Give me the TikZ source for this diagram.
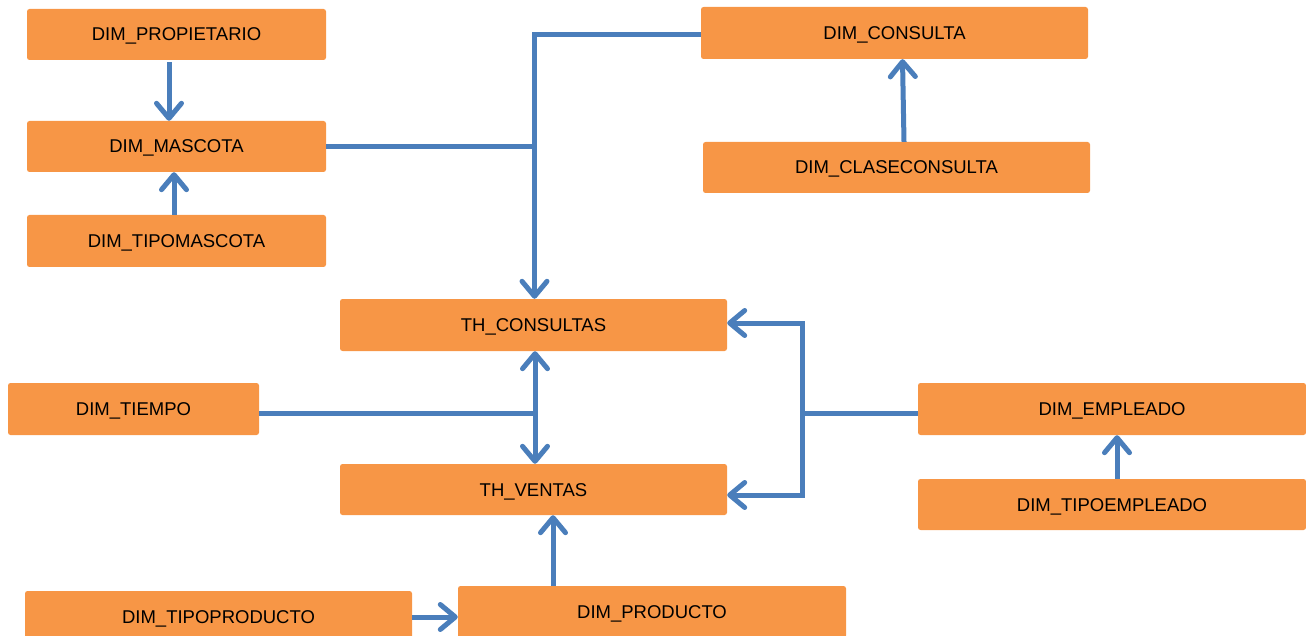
\documentclass[tikz,border=0pt]{standalone}
\usepackage{fontspec}
\setmainfont{Liberation Sans}
\usetikzlibrary{arrows.meta,calc}
\definecolor{boxorange}{HTML}{F79646}
\definecolor{linkblue}{HTML}{4A7EBB}
\begin{document}
\begin{tikzpicture}[x=1pt,y=-1pt,
  tbl/.style={fill=boxorange, draw=none, rounded corners=2.5pt, inner sep=0pt,
    text height=13pt, text depth=0pt,
    font=\fontsize{18.5}{20}\selectfont, text=black},
  link/.style={draw=linkblue, line width=5pt},
  arr/.style={link, -{Straight Barb[length=15pt,width=25pt,round]}},
  arrboth/.style={link, {Straight Barb[length=15pt,width=25pt,round]}-{Straight Barb[length=15pt,width=25pt,round]}}]
\useasboundingbox (0,0) rectangle (1306,636);

% tables
\node[tbl, minimum width=299, minimum height=51] (prop)     at (176.5,34.5)  {DIM\_PROPIETARIO};
\node[tbl, minimum width=299, minimum height=51] (masc)     at (176.5,146.5) {DIM\_MASCOTA};
\node[tbl, minimum width=299, minimum height=52] (tipomasc) at (176.5,241)   {DIM\_TIPOMASCOTA};
\node[tbl, minimum width=387, minimum height=52] (consulta) at (894.5,33)    {DIM\_CONSULTA};
\node[tbl, minimum width=387, minimum height=51] (clase)    at (896.5,167.5) {DIM\_CLASECONSULTA};
\node[tbl, minimum width=387, minimum height=52] (thc)      at (533.5,325)   {TH\_CONSULTAS};
\node[tbl, minimum width=251, minimum height=52] (tiempo)   at (133.5,409)   {DIM\_TIEMPO};
\node[tbl, minimum width=387, minimum height=51] (thv)      at (533.5,489.5) {TH\_VENTAS};
\node[tbl, minimum width=388, minimum height=52] (emp)      at (1112,409)    {DIM\_EMPLEADO};
\node[tbl, minimum width=388, minimum height=51] (tipoemp)  at (1112,504.5)  {DIM\_TIPOEMPLEADO};
\node[tbl, minimum width=387, minimum height=52] (tipoprod) at (218.5,617)   {DIM\_TIPOPRODUCTO};
\node[tbl, minimum width=388, minimum height=52] (prod)     at (652,612)     {DIM\_PRODUCTO};

% pet branch
\coordinate (p1) at ($(prop.south)+(-7.5,2)$);
\draw[arr] (p1) -- (p1 |- masc.north);
\coordinate (p2) at ($(tipomasc.north)+(-2.5,0)$);
\draw[arr] (p2) -- (p2 |- masc.south);
\coordinate (tc) at ($(thc.north)+(1,0)$);
\draw[link] (masc.east) -- (masc.east -| tc);
\coordinate (cw) at ($(consulta.west)+(0,2)$);
\draw[arr] (cw) -| (tc);

% consultation class
\coordinate (c1) at ($(clase.north)+(7.5,0)$);
\coordinate (c2) at ($(consulta.south)+(8,0)$);
\draw[arr] (c1) -- (c2);

% time dimension shared by both fact tables
\coordinate (tm) at ($(thc.south)+(1.5,0)$);
\draw[arrboth] (tm) -- (tm |- thv.north);
\coordinate (te) at ($(tiempo.east)+(0,4)$);
\draw[link] (te) -- (te -| tm);

% employee dimension shared by both fact tables
\coordinate (ee) at ($(emp.west)+(0,4)$);
\coordinate (j) at (802,413);
\draw[link] (ee) -- (j);
\coordinate (ce) at ($(thc.east)+(0,-2)$);
\coordinate (ve) at ($(thv.east)+(0,5.5)$);
\draw[arr] (j) |- (ce);
\draw[arr] (j) |- (ve);
\coordinate (e1) at ($(tipoemp.north)+(5,0)$);
\draw[arr] (e1) -- (e1 |- emp.south);

% product branch
\coordinate (pp) at ($(prod.north)+(-99,0)$);
\draw[arr] (pp) -- (pp |- thv.south);
\draw[arr] (tipoprod.east) -- (tipoprod.east -| prod.west);
\end{tikzpicture}
\end{document}
